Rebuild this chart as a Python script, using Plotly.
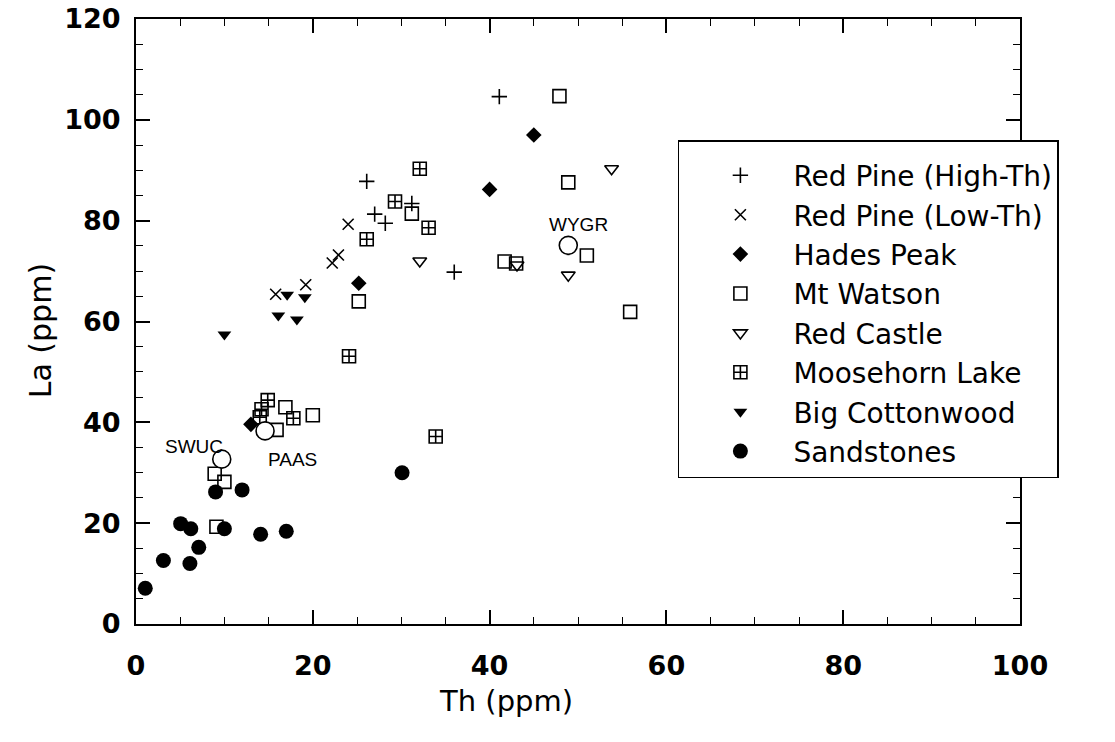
import plotly.graph_objects as go

# ---- data (Th ppm, La ppm) ----
rp_high_th = [41.1, 26.1, 31.2, 27.0, 28.2, 36.0]
rp_high_la = [104.6, 87.8, 83.4, 81.3, 79.5, 69.8]

rp_low_th = [15.8, 19.2, 22.2, 22.9, 24.0]
rp_low_la = [65.4, 67.3, 71.6, 73.2, 79.3]

hades_th = [13.0, 25.2, 40.0, 45.0]
hades_la = [39.6, 67.6, 86.2, 97.0]

watson_th = [8.9, 10.0, 9.1, 16.9, 20.0, 15.9, 25.2, 31.2, 41.7, 43.0, 47.9, 48.9, 51.0, 55.9]
watson_la = [29.8, 28.2, 19.3, 43.0, 41.4, 38.5, 64.0, 81.4, 71.9, 71.5, 104.7, 87.6, 73.1, 61.9]

castle_th = [32.1, 43.1, 48.9, 53.8]
castle_la = [72.0, 71.2, 69.2, 90.3]

moose_th = [14.9, 14.2, 14.0, 17.8, 24.1, 26.1, 29.3, 32.1, 33.1, 33.9]
moose_la = [44.4, 42.6, 41.0, 40.8, 53.1, 76.3, 83.8, 90.3, 78.6, 37.2]

cotton_th = [10.0, 16.1, 18.2, 17.1, 19.1]
cotton_la = [57.4, 61.2, 60.4, 65.3, 64.8]

sand_th = [1.05, 3.1, 5.05, 6.2, 7.1, 6.1, 9.0, 12.0, 10.0, 14.1, 17.0, 30.1]
sand_la = [7.1, 12.6, 19.9, 18.9, 15.2, 12.0, 26.2, 26.6, 18.9, 17.8, 18.4, 30.0]

ref_names = ["SWUC", "PAAS", "WYGR"]
ref_th = [9.7, 14.6, 48.9]
ref_la = [32.7, 38.3, 75.1]

x_ticks = [0, 20, 40, 60, 80, 100]
y_ticks = [0, 20, 40, 60, 80, 100, 120]

FONT = "DejaVu Sans"
BLACK = "black"

series = [
    ("Red Pine (High-Th)", rp_high_th, rp_high_la, "cross-thin", 11, BLACK, 1.6),
    ("Red Pine (Low-Th)", rp_low_th, rp_low_la, "x-thin", 11, BLACK, 1.6),
    ("Hades Peak", hades_th, hades_la, "diamond", 12, BLACK, 0),
    ("Mt Watson", watson_th, watson_la, "square-open", 13, BLACK, 1.6),
    ("Red Castle", castle_th, castle_la, "triangle-down-open", 12, BLACK, 1.6),
    ("Moosehorn Lake", moose_th, moose_la, "square-cross-open", 13, BLACK, 1.6),
    ("Big Cottonwood", cotton_th, cotton_la, "triangle-down", 12, BLACK, 0),
    ("Sandstones", sand_th, sand_la, "circle", 15, BLACK, 0),
]

fig = go.Figure()
for name, xs, ys, sym, size, col, lw in series:
    fig.add_trace(go.Scatter(
        x=xs, y=ys, mode="markers", name=name,
        marker=dict(symbol=sym, size=size, color=col,
                    line=dict(color=BLACK, width=lw)),
    ))

# reference compositions (open circles)
fig.add_trace(go.Scatter(
    x=ref_th, y=ref_la, mode="markers", showlegend=False,
    marker=dict(symbol="circle", size=18, color="white",
                line=dict(color=BLACK, width=1.6)),
))

label_shift = {"SWUC": (-28, 13), "PAAS": (27, -29), "WYGR": (10, 21)}
for n, xv, yv in zip(ref_names, ref_th, ref_la):
    dx, dy = label_shift[n]
    fig.add_annotation(x=xv, y=yv, text=n, showarrow=False,
                       xshift=dx, yshift=dy,
                       font=dict(family="Liberation Sans", size=19, color=BLACK))

axis_common = dict(
    showline=True, linecolor=BLACK, linewidth=2, mirror="allticks",
    ticks="inside", ticklen=14, tickwidth=1.5, tickcolor=BLACK,
    showgrid=False, zeroline=False, automargin=False,
    tickfont=dict(family=FONT, size=27, color=BLACK, weight="bold"),
    minor=dict(ticks="inside", ticklen=7, tickwidth=1.2, tickcolor=BLACK, dtick=5, showgrid=False),
)

fig.update_xaxes(range=[0, 100], tickvals=x_ticks, ticklabelstandoff=17, **axis_common)
fig.update_yaxes(range=[0, 120], tickvals=y_ticks, ticklabelstandoff=8, **axis_common)

fig.add_annotation(text="Th (ppm)", xref="paper", yref="paper", x=0.419, y=-0.1265,
                   xanchor="center", yanchor="middle",
                   showarrow=False, font=dict(family=FONT, size=29, color=BLACK))
fig.add_annotation(text="La (ppm)", xref="paper", yref="paper", x=-0.1086, y=0.4855,
                   xanchor="center", yanchor="middle",
                   textangle=-90, showarrow=False,
                   font=dict(family=FONT, size=30, color=BLACK))

fig.update_layout(
    width=1115, height=742,
    margin=dict(l=136, r=95, t=19, b=118),
    paper_bgcolor="white", plot_bgcolor="white",
    legend=dict(x=0.613, y=0.80, xanchor="left", yanchor="top",
                bgcolor="white", bordercolor=BLACK, borderwidth=1.5,
                font=dict(family=FONT, size=28, color=BLACK),
                title=dict(text=" ", font=dict(size=7)),
                itemwidth=96, indentation=8, tracegroupgap=0,
                entrywidth=345),
)

fig.write_html("out.html")
